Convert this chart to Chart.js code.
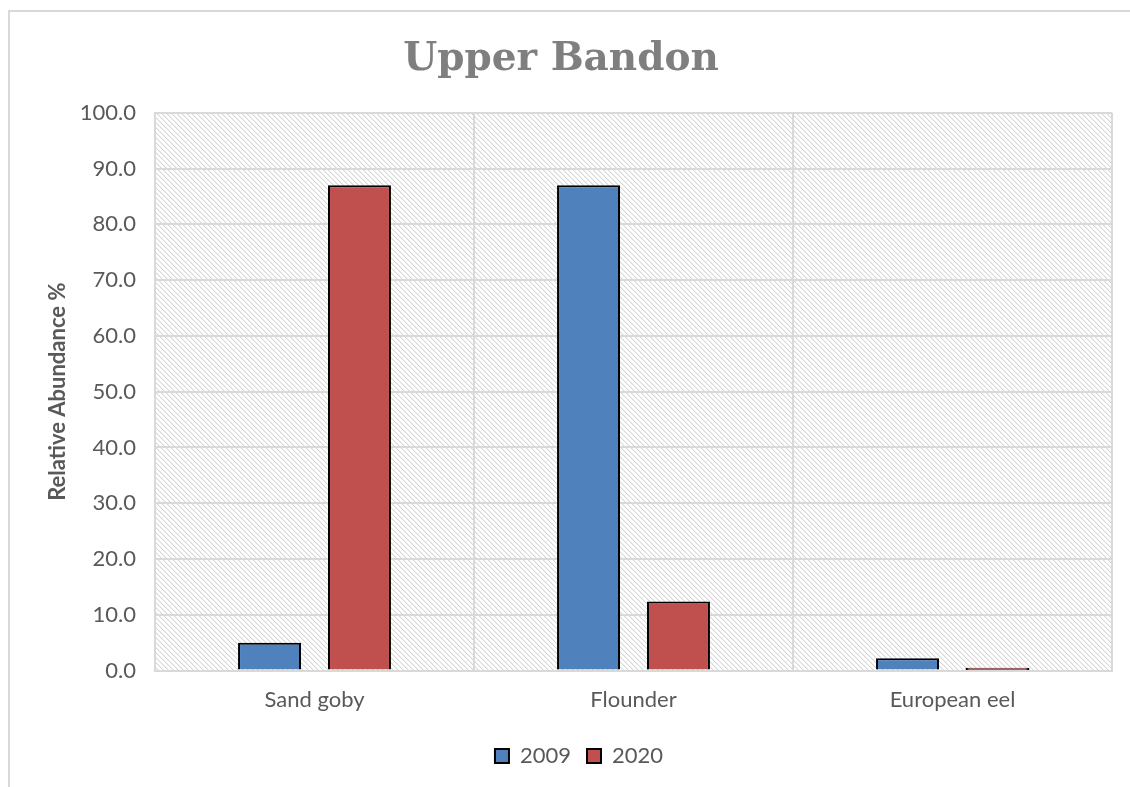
<!DOCTYPE html>
<html>
<head>
<meta charset="utf-8">
<script src="https://cdn.jsdelivr.net/npm/chart.js@4"></script>
<style>
  html, body { margin: 0; padding: 0; background: #fff; width: 1130px; height: 787px; overflow: hidden; }
  #frame { position: absolute; left: 8px; top: 10px; width: 1122px; height: 777px;
           border-left: 2px solid #d9d9d9; border-top: 2px solid #d9d9d9; box-sizing: border-box; }
  #wrap { position: absolute; left: 0; top: 0; width: 1120px; height: 775px; }
</style>
</head>
<body>
<div id="frame"><div id="wrap"><canvas id="c"></canvas></div></div>
<script>
const categories = ["Sand goby", "Flounder", "European eel"];
const seriesNames = ["2009", "2020"];
const values2009 = [5.0, 87.0, 2.2];
const values2020 = [87.0, 12.4, 0.4];
const chartTitle = "Upper Bandon";
const yAxisTitle = "Relative Abundance %";

function makeHatch() {
  const size = 10;
  const pc = document.createElement('canvas');
  pc.width = size; pc.height = size;
  const pctx = pc.getContext('2d');
  const img = pctx.createImageData(size, size);
  for (let y = 0; y < size; y++) {
    for (let x = 0; x < size; x++) {
      const i = (y * size + x) * 4;
      const d = ((x - y) % 5 + 5) % 5;
      let v = 255;
      if (d === 0) v = 214;
      else if (d === 1) v = 240;
      img.data[i] = v; img.data[i+1] = v; img.data[i+2] = v; img.data[i+3] = 255;
    }
  }
  pctx.putImageData(img, 0, 0);
  return pc;
}

const hatchPlugin = {
  id: 'hatch',
  afterLayout(chart) {
    if (chart.legend) { chart.legend.left += 18; chart.legend.right += 18; }
  },
  beforeDraw(chart) {
    const { ctx, chartArea: a } = chart;
    const pat = ctx.createPattern(makeHatch(), 'repeat');
    ctx.save();
    ctx.fillStyle = pat;
    ctx.fillRect(a.left, a.top, a.right - a.left, a.bottom - a.top);
    ctx.restore();
  }
};

const baseFont = "Lato, 'Open Sans', sans-serif";
const skip = c => (c.raw !== undefined && c.raw < 1) ? false : 'bottom';
const inflate = c => (c.raw !== undefined && c.raw < 1) ? 0.5 : 'auto';

new Chart(document.getElementById('c'), {
  type: 'bar',
  data: {
    labels: categories,
    datasets: [
      { label: seriesNames[0], data: values2009, backgroundColor: '#4f81bd', borderColor: '#000', borderWidth: 2, borderSkipped: skip, inflateAmount: inflate },
      { label: seriesNames[1], data: values2020, backgroundColor: '#c0504d', borderColor: '#000', borderWidth: 2, borderSkipped: skip, inflateAmount: inflate }
    ]
  },
  plugins: [hatchPlugin],
  options: {
    responsive: true,
    maintainAspectRatio: false,
    animation: false,
    devicePixelRatio: 1,
    layout: { padding: { left: 0, right: 18, top: 0, bottom: 10 } },
    datasets: { bar: { categoryPercentage: 0.564, barPercentage: 0.7 } },
    plugins: {
      title: {
        display: true, text: chartTitle, color: '#7f7f7f',
        font: { family: "'DejaVu Serif', serif", size: 39, weight: 'bold' },
        padding: { top: 24, bottom: 30 }
      },
      legend: {
        position: 'bottom',
        labels: {
          color: '#595959', font: { family: baseFont, size: 22 },
          boxWidth: 14, boxHeight: 14, padding: 16,
          generateLabels(chart) {
            return chart.data.datasets.map((ds, i) => ({
              text: ds.label, fillStyle: ds.backgroundColor, strokeStyle: '#000',
              lineWidth: 2, datasetIndex: i, hidden: false, fontColor: '#595959'
            }));
          }
        }
      },
      tooltip: { enabled: false }
    },
    scales: {
      x: {
        grid: { color: '#d9d9d9', lineWidth: 2, drawTicks: false, offset: true },
        border: { color: '#d9d9d9', width: 2 },
        ticks: { color: '#595959', font: { family: baseFont, size: 22 }, padding: 16 }
      },
      y: {
        min: 0, max: 100,
        afterFit(scale) { scale.width = 145; },
        grid: { color: '#d9d9d9', lineWidth: 2, drawTicks: false },
        border: { color: '#d9d9d9', width: 2 },
        ticks: {
          stepSize: 10, color: '#595959', font: { family: baseFont, size: 22 }, padding: 19,
          callback: v => Number(v).toFixed(1)
        },
        title: {
          display: true, text: yAxisTitle, color: '#595959',
          font: { family: baseFont, size: 22, weight: 'bold' }, padding: { top: 35, bottom: 0 }
        }
      }
    }
  }
});
</script>
</body>
</html>
